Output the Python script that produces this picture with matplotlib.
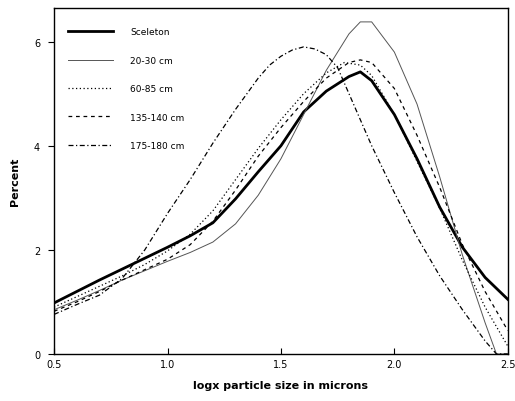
import matplotlib
matplotlib.use("Agg")
import matplotlib.pyplot as plt

# Data
x_skel = [0.5, 0.6, 0.7, 0.8, 0.9, 1.0, 1.1, 1.2, 1.3, 1.4, 1.5, 1.6, 1.7, 1.8, 1.85, 1.9, 2.0, 2.1, 2.2, 2.3, 2.4, 2.5]
y_skel = [0.98, 1.2, 1.42, 1.63, 1.84, 2.05, 2.27, 2.52, 2.98, 3.5, 4.0, 4.65, 5.05, 5.33, 5.42, 5.25, 4.6, 3.75, 2.82, 2.05, 1.47, 1.05]

x_2030 = [0.5, 0.6, 0.7, 0.8, 0.9, 1.0, 1.1, 1.2, 1.3, 1.4, 1.5, 1.6, 1.7, 1.8, 1.85, 1.9, 2.0, 2.1, 2.2, 2.3, 2.4, 2.45, 2.5]
y_2030 = [0.85, 1.03, 1.22, 1.42, 1.6, 1.78, 1.95, 2.15, 2.5, 3.05, 3.75, 4.6, 5.45, 6.15, 6.38, 6.38, 5.8, 4.8, 3.4, 1.9, 0.6, 0.0, 0.0]

x_6085 = [0.5, 0.6, 0.7, 0.8, 0.9, 1.0, 1.1, 1.2, 1.3, 1.4, 1.5, 1.6, 1.7, 1.78, 1.85, 1.9, 2.0, 2.1, 2.2, 2.3, 2.4, 2.5]
y_6085 = [0.9, 1.1, 1.3, 1.5, 1.72, 1.98, 2.3, 2.75, 3.35, 3.95, 4.5, 5.0, 5.4, 5.6, 5.55, 5.35, 4.6, 3.7, 2.8, 1.8, 0.9, 0.15]

x_135 = [0.5, 0.6, 0.7, 0.8, 0.9, 1.0, 1.1, 1.2, 1.3, 1.4, 1.5, 1.6, 1.7, 1.8, 1.85, 1.9, 2.0, 2.1, 2.2, 2.3, 2.4, 2.5]
y_135 = [0.82, 1.0, 1.2, 1.42, 1.62, 1.82, 2.1, 2.55, 3.15, 3.8, 4.35, 4.85, 5.3, 5.6, 5.65, 5.6, 5.1, 4.2, 3.2, 2.1, 1.2, 0.45]

x_175 = [0.5, 0.6, 0.7, 0.8, 0.9, 1.0, 1.1, 1.2, 1.3, 1.4, 1.45, 1.5, 1.55, 1.6, 1.65, 1.7, 1.75, 1.8, 1.9, 2.0, 2.1, 2.2, 2.3, 2.4, 2.45, 2.5]
y_175 = [0.76, 0.95, 1.13, 1.45, 2.0, 2.7, 3.35, 4.05, 4.7, 5.3, 5.55, 5.72, 5.84, 5.9, 5.86, 5.75, 5.5, 5.0, 4.0, 3.1, 2.25, 1.5, 0.85, 0.25, 0.0, 0.0]

labels = ["Sceleton", "20-30 cm", "60-85 cm", "135-140 cm", "175-180 cm"]
x_ticks = [0.5, 1.0, 1.5, 2.0, 2.5]
x_ticklabels = ["0.5", "1.0", "1.5", "2.0", "2.5"]
y_ticks = [0, 2, 4, 6]

fig = plt.figure(figsize=(5.15, 4.02), dpi=100)
ax = fig.add_axes([0.105, 0.117, 0.881, 0.861])

ax.plot(x_skel, y_skel, color="black", lw=2.0, ls="-", label=labels[0])
ax.plot(x_2030, y_2030, color="#555555", lw=0.7, ls="-", label=labels[1])
ax.plot(x_6085, y_6085, color="black", lw=0.9, ls=(0, (1, 2)), label=labels[2])
ax.plot(x_135, y_135, color="black", lw=0.9, ls=(0, (3, 3)), label=labels[3])
ax.plot(x_175, y_175, color="black", lw=0.9, ls=(0, (4, 2, 1, 2)), label=labels[4])

ax.set_xlim(0.5, 2.5)
ax.set_ylim(0, 6.65)
ax.set_xticks(x_ticks)
ax.set_xticklabels(x_ticklabels)
ax.set_yticks(y_ticks)
ax.tick_params(axis="both", labelsize=7, length=4, width=0.8)
ax.tick_params(axis="x", direction="in")
ax.tick_params(axis="y", direction="out", pad=6)

for s in ax.spines.values():
    s.set_linewidth(1.0)

ax.set_xlabel("logx particle size in microns", fontsize=8, fontweight="bold", labelpad=8)
ax.set_ylabel("Percent", fontsize=8, fontweight="bold", labelpad=10)

leg = ax.legend(loc="upper left", bbox_to_anchor=(0.017, 0.962), frameon=False,
                fontsize=6.5, handlelength=5.0, handletextpad=1.9, labelspacing=2.15,
                borderaxespad=0.3)

fig.savefig("out.png", dpi=100)
